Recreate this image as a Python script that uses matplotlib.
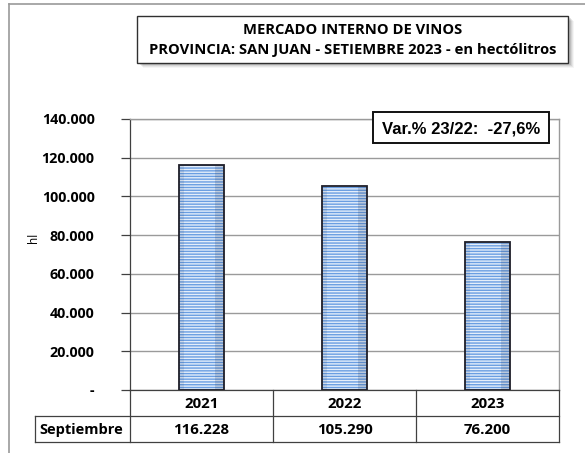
import matplotlib
matplotlib.use("Agg")
import matplotlib.pyplot as plt
from matplotlib.patches import Rectangle
from matplotlib.lines import Line2D
from matplotlib.ticker import FuncFormatter

years = ["2021", "2022", "2023"]
values = [116228, 105290, 76200]
value_labels = ["116.228", "105.290", "76.200"]
row_label = "Septiembre"
title_lines = ["MERCADO INTERNO DE VINOS",
               "PROVINCIA: SAN JUAN - SETIEMBRE 2023 - en hectólitros"]
var_text = "Var.% 23/22:  -27,6%"
y_ticks = [0, 20000, 40000, 60000, 80000, 100000, 120000, 140000]
y_label = "hl"

W, H = 585, 453
FONT = ["Open Sans", "DejaVu Sans"]
fig = plt.figure(figsize=(W / 100, H / 100), dpi=100)
fig.patch.set_facecolor("white")


def fx(px):
    return px / W


def fy(py):
    return 1 - py / H


def hline(x0, x1, y, color="#404040", lw=0.9, z=5):
    fig.add_artist(Line2D([fx(x0), fx(x1)], [fy(y), fy(y)], color=color, lw=lw, zorder=z))


def vline(x, y0, y1, color="#404040", lw=0.9, z=5):
    fig.add_artist(Line2D([fx(x), fx(x)], [fy(y0), fy(y1)], color=color, lw=lw, zorder=z))


# outer chart border
hline(9, 600, 4, color="#9a9a9a", lw=1.2)
vline(9, 4, 460, color="#9a9a9a", lw=1.2)

# axes
L, R, T, B = 130, 559, 119, 390
ax = fig.add_axes([fx(L), fy(B), fx(R - L), (B - T) / H])
ax.set_xlim(-0.5, 2.5)
ax.set_ylim(0, 140000)
ax.set_yticks(y_ticks)
ax.yaxis.set_major_formatter(FuncFormatter(
    lambda v, p: "-" if v == 0 else f"{int(v):,}".replace(",", ".")))
ax.tick_params(axis="y", length=6.5, width=0.9, color="#404040", pad=19,
               labelsize=10.3)
for lab in ax.get_yticklabels():
    lab.set_family(FONT)
    lab.set_fontweight("bold")
ax.set_xticks([])
ax.grid(axis="y", color="#9a9a9a", lw=1.0, zorder=0)
ax.set_axisbelow(True)
for s in ["top", "right"]:
    ax.spines[s].set_color("#9a9a9a")
    ax.spines[s].set_linewidth(1.0)
ax.spines["left"].set_color("#404040")
ax.spines["left"].set_linewidth(0.9)
ax.spines["bottom"].set_color("#404040")
ax.spines["bottom"].set_linewidth(0.9)
fig.text(fx(34), fy(238), y_label, rotation=90, ha="center", va="center",
         family=FONT, fontsize=8.5)

plt.rcParams["hatch.linewidth"] = 1.0
xs = list(range(len(values)))
bw = 0.315
ax.bar(xs, values, width=bw, color="#e4eefa", edgecolor="#6a9ee2",
       hatch="------", linewidth=0, zorder=2)
# side shading
ax.bar([x + bw * 0.40 for x in xs], values, width=bw * 0.2,
       color="#1a2a4a", alpha=0.16, linewidth=0, zorder=3)
ax.bar([x - bw * 0.44 for x in xs], values, width=bw * 0.12,
       color="#1a2a4a", alpha=0.10, linewidth=0, zorder=3)
ax.bar(xs, values, width=bw, color="none", edgecolor="#1e1e28",
       linewidth=1.3, zorder=4)

# table
tl, trow1, trow2 = 35, 416, 442
for xv in [L, 273, 416, R]:
    vline(xv, B, trow2)
vline(tl, trow1, trow2)
hline(tl, R, trow1)
hline(tl, R, trow2)
centers = [(L + 273) / 2, (273 + 416) / 2, (416 + R) / 2]
for cx, yr, vl in zip(centers, years, value_labels):
    fig.text(fx(cx), fy((B + trow1) / 2 + 1), yr, ha="center", va="center",
             family=FONT, fontweight="bold", fontsize=10.8)
    fig.text(fx(cx), fy((trow1 + trow2) / 2 + 1), vl, ha="center", va="center",
             family=FONT, fontweight="bold", fontsize=10.8)
fig.text(fx(tl + 4), fy((trow1 + trow2) / 2 + 1), row_label, ha="left", va="center",
         family=FONT, fontweight="bold", fontsize=10.5)

# title box with shadow
bx0, bx1, by0, by1 = 137, 568, 16, 63
for i, a in enumerate([0.10, 0.08, 0.06, 0.04]):
    fig.add_artist(Rectangle((fx(bx0 + 3 + i), fy(by1 + 2 + i)), fx(bx1 - bx0), (by1 - by0) / H,
                             facecolor="#000000", alpha=a, edgecolor="none", zorder=6))
fig.add_artist(Rectangle((fx(bx0), fy(by1)), fx(bx1 - bx0), (by1 - by0) / H,
                         facecolor="white", edgecolor="#303030", lw=1.0, zorder=7))
fig.text(fx((bx0 + bx1) / 2), fy(30), title_lines[0], ha="center", va="center",
         family=FONT, fontweight="bold", fontsize=10.6, zorder=8)
fig.text(fx((bx0 + bx1) / 2), fy(50), title_lines[1], ha="center", va="center",
         family=FONT, fontweight="bold", fontsize=10.6, zorder=8)

# variation box
vx0, vx1, vy0, vy1 = 373, 549, 112, 143
fig.add_artist(Rectangle((fx(vx0), fy(vy1)), fx(vx1 - vx0), (vy1 - vy0) / H,
                         facecolor="white", edgecolor="#111111", lw=1.4, zorder=7))
fig.text(fx((vx0 + vx1) / 2), fy((vy0 + vy1) / 2 + 1), var_text, ha="center", va="center",
         family=["Liberation Sans", "DejaVu Sans"], fontweight="bold", fontsize=12, zorder=8)

fig.savefig("out.png", dpi=100)
